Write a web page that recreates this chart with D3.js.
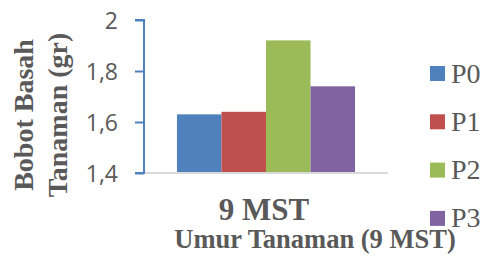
<!DOCTYPE html>
<html>
<head>
<meta charset="utf-8">
<script src="https://cdn.jsdelivr.net/npm/d3@7"></script>
<style>
body { margin: 0; background: #fff; }
svg { display: block; }
</style>
</head>
<body>
<script>
var categories = ['9 MST'];
var series = ['P0', 'P1', 'P2', 'P3'];
var values = [1.63, 1.64, 1.92, 1.74];
var colors = ['#4f81bd', '#c0504d', '#9bbb59', '#8064a2'];
var y_ticks = [1.4, 1.6, 1.8, 2];

var width = 483, height = 268;
var text_color = '#595959';
var serif = "'Liberation Serif', 'Times New Roman', serif";

svg = d3.select("body").append("svg")
	.attr("width", width)
	.attr("height", height);

var x0 = d3.scaleBand().domain(categories).range([144, 388]).paddingOuter(0.185).paddingInner(0);
var x1 = d3.scaleBand().domain(series).range([0, x0.bandwidth()]);
var y = d3.scaleLinear().domain([1.4, 2]).range([173, 20]);

// bars
categories.forEach(function(cat) {
	svg.selectAll(".bar")
		.data(values)
		.enter()
		.append("rect")
		.attr("class", "bar")
		.attr("x", function(d, i) { return x0(cat) + x1(series[i]) })
		.attr("width", x1.bandwidth())
		.attr("y", function(d) { return y(d) })
		.attr("height", function(d) { return y(1.4) - y(d) })
		.style("fill", function(d, i) { return colors[i] })
});

// baseline
svg.append("line")
	.attr("x1", 144).attr("x2", 388)
	.attr("y1", y(1.4)).attr("y2", y(1.4))
	.style("stroke", "#d9d9d9")
	.style("stroke-width", 2)

// y axis
var y_axis = d3.axisLeft(y).tickValues(y_ticks).tickSize(9).tickPadding(17)
	.tickFormat(function(d) { return d3.format(".1f")(d).replace('.', ',').replace(',0', '') });
var g = svg.append("g").attr("transform", "translate(144,0)").call(y_axis);
g.select(".domain").attr("d", "M-9," + y(2) + "H0V" + y(1.4) + "H-9").style("stroke", "#4f81bd").style("stroke-width", 2).style("fill", "none");
g.selectAll(".tick line").style("stroke", "#4f81bd").style("stroke-width", 2);
g.selectAll(".tick text")
	.style("font-family", "'Open Sans', 'Noto Sans', sans-serif")
	.style("font-size", "23px")
	.style("fill", text_color)
	.attr("dy", "0.36em")

// category label
svg.selectAll(".cat_text")
	.data(categories)
	.enter()
	.append("text")
	.attr("class", "cat_text")
	.attr("text-anchor", "middle")
	.attr("x", function(d) { return x0(d) + x0.bandwidth() / 2 - 2 })
	.attr("y", 219.5)
	.style("font-family", serif)
	.style("font-weight", "bold")
	.style("font-size", "31px")
	.style("fill", text_color)
	.text(function(d) { return d })

// x title
svg.append("text")
	.attr("text-anchor", "middle")
	.attr("x", 315)
	.attr("y", 248)
	.style("font-family", serif)
	.style("font-weight", "bold")
	.style("font-size", "26.5px")
	.style("fill", text_color)
	.text('Umur Tanaman (9 MST)')

// y title
var y_title = ['Bobot Basah', 'Tanaman (gr)'];
svg.selectAll(".y_title")
	.data(y_title)
	.enter()
	.append("text")
	.attr("class", "y_title")
	.attr("text-anchor", "middle")
	.attr("transform", function(d, i) { return "translate(" + (33 + i * 34) + ",115) rotate(-90)" })
	.style("font-family", serif)
	.style("font-weight", "bold")
	.style("font-size", "28px")
	.style("fill", text_color)
	.text(function(d) { return d })

// legend
var legend = svg.selectAll(".legend")
	.data(series)
	.enter()
	.append("g")
	.attr("class", "legend")
	.attr("transform", function(d, i) { return "translate(430," + (66 + i * 48.3) + ")" })
legend.append("rect")
	.attr("width", 15).attr("height", 15)
	.style("fill", function(d, i) { return colors[i] })
legend.append("text")
	.attr("x", 21)
	.attr("y", 16.5)
	.style("font-family", serif)
	.style("font-size", "28px")
	.style("fill", text_color)
	.text(function(d) { return d })
</script>
</body>
</html>
